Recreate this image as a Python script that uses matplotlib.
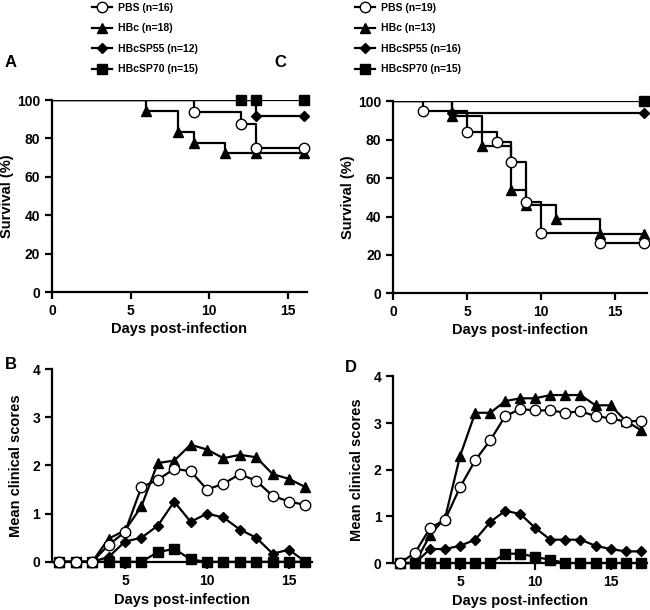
import matplotlib
matplotlib.use('Agg')
import matplotlib.pyplot as plt
from matplotlib.lines import Line2D

plt.rcParams['font.family'] = ['Liberation Sans', 'DejaVu Sans']
plt.rcParams['font.weight'] = 'bold'

# ---- data ----
groups = ["PBS", "HBc", "HBcSP55", "HBcSP70"]
n_left = [16, 18, 12, 15]
n_right = [19, 13, 16, 15]

# Panel A survival (Kaplan-Meier steps)
a_pbs_days = [0, 9, 12, 13, 16]
a_pbs_surv = [100, 93.75, 87.5, 75, 75]
a_hbc_days = [0, 6, 8, 9, 11, 13, 16]
a_hbc_surv = [100, 94.4, 83.3, 77.8, 72.2, 72.2, 72.2]
a_sp55_days = [0, 13, 16]
a_sp55_surv = [100, 91.7, 91.7]
a_sp70_days = [0, 12, 13, 16]
a_sp70_surv = [100, 100, 100, 100]

# Panel C survival
c_pbs_days = [0, 2, 5, 7, 8, 9, 10, 14, 17]
c_pbs_surv = [100, 94.7, 84.2, 78.9, 68.4, 47.4, 31.6, 26.3, 26.3]
c_hbc_days = [0, 4, 6, 8, 9, 11, 14, 17]
c_hbc_surv = [100, 92.3, 76.9, 53.8, 46.2, 38.5, 30.8, 30.8]
c_sp55_days = [0, 4, 17]
c_sp55_surv = [100, 93.75, 93.75]
c_sp70_days = [0, 17]
c_sp70_surv = [100, 100]

# Panel B clinical scores (days 1-16)
b_days = list(range(1, 17))
b_pbs = [0, 0, 0, 0.35, 0.62, 1.55, 1.7, 1.93, 1.88, 1.5, 1.62, 1.82, 1.68, 1.37, 1.25, 1.18]
b_hbc = [0, 0, 0, 0.48, 0.65, 1.15, 2.05, 2.1, 2.43, 2.33, 2.15, 2.22, 2.17, 1.82, 1.72, 1.55]
b_sp55 = [0, 0, 0, 0.1, 0.42, 0.5, 0.75, 1.25, 0.83, 1.0, 0.92, 0.67, 0.5, 0.17, 0.25, 0]
b_sp70 = [0, 0, 0, 0, 0, 0, 0.2, 0.27, 0.05, 0, 0, 0, 0, 0, 0, 0]

# Panel D clinical scores (days 1-17)
d_days = list(range(1, 18))
d_pbs = [0, 0.22, 0.75, 0.93, 1.63, 2.2, 2.63, 3.15, 3.3, 3.27, 3.27, 3.22, 3.25, 3.15, 3.1, 3.03, 3.05]
d_hbc = [0, 0, 0.6, 0.97, 2.3, 3.22, 3.22, 3.47, 3.53, 3.53, 3.6, 3.6, 3.6, 3.38, 3.38, 3.05, 2.85]
d_sp55 = [0, 0, 0.3, 0.3, 0.37, 0.5, 0.88, 1.12, 1.05, 0.75, 0.5, 0.5, 0.5, 0.37, 0.3, 0.25, 0.25]
d_sp70 = [0, 0, 0, 0, 0, 0, 0, 0.2, 0.2, 0.13, 0.07, 0, 0, 0, 0, 0, 0]

# ---- styles ----
styles = [
    dict(marker='o', mfc='white', mec='black', ms=7.5),
    dict(marker='^', mfc='black', mec='black', ms=7),
    dict(marker='D', mfc='black', mec='black', ms=5.5),
    dict(marker='s', mfc='black', mec='black', ms=6.5),
]
LW = 1.6


def style_axes(ax):
    for side in ['top', 'right']:
        ax.spines[side].set_visible(False)
    for side in ['left', 'bottom']:
        ax.spines[side].set_linewidth(1.6)
    ax.tick_params(direction='out', length=5, width=1.6, labelsize=10)
    for lbl in ax.get_xticklabels() + ax.get_yticklabels():
        lbl.set_fontweight('bold')


def survival_panel(ax, series, xmax):
    # draw the last group first so PBS circles sit on top
    for (days, surv), st in reversed(list(zip(series, styles))):
        ax.step(days, surv, where='post', color='black', lw=LW, zorder=2)
        ax.plot(days[1:], surv[1:], ls='none', zorder=3, clip_on=False, **st)
    ax.set_xlim(0, xmax)
    ax.set_ylim(0, 100)
    ax.set_xticks([0, 5, 10, 15])
    ax.set_yticks([0, 20, 40, 60, 80, 100])
    ax.set_xlabel("Days post-infection", fontsize=10.5, fontweight='bold', labelpad=3)
    ax.set_ylabel("Survival (%)", fontsize=10.5, fontweight='bold', labelpad=2)
    style_axes(ax)


def score_panel(ax, days, series, xmax):
    for vals, st in reversed(list(zip(series, styles))):
        ax.plot(days, vals, color='black', lw=LW, zorder=3, clip_on=False, **st)
    ax.set_xlim(0.55, xmax)
    ax.set_ylim(0, 4)
    ax.set_xticks([5, 10, 15])
    ax.set_yticks([0, 1, 2, 3, 4])
    ax.set_xlabel("Days post-infection", fontsize=10.5, fontweight='bold', labelpad=4)
    ax.set_ylabel("Mean clinical scores", fontsize=10.5, fontweight='bold', labelpad=7)
    style_axes(ax)


fig = plt.figure(figsize=(6.5, 6.1), dpi=100)

ax_a = fig.add_axes([0.080, 0.521, 0.392, 0.315])
ax_c = fig.add_axes([0.605, 0.519, 0.391, 0.315])
ax_b = fig.add_axes([0.080, 0.079, 0.400, 0.316])
ax_d = fig.add_axes([0.605, 0.077, 0.391, 0.306])

survival_panel(ax_a, [(a_pbs_days, a_pbs_surv), (a_hbc_days, a_hbc_surv),
                      (a_sp55_days, a_sp55_surv), (a_sp70_days, a_sp70_surv)], 16.2)
survival_panel(ax_c, [(c_pbs_days, c_pbs_surv), (c_hbc_days, c_hbc_surv),
                      (c_sp55_days, c_sp55_surv), (c_sp70_days, c_sp70_surv)], 17.2)
score_panel(ax_b, b_days, [b_pbs, b_hbc, b_sp55, b_sp70], 16.4)
score_panel(ax_d, d_days, [d_pbs, d_hbc, d_sp55, d_sp70], 17.45)

# legends
for x0, ns in [(0.142, n_left), (0.546, n_right)]:
    handles = [Line2D([], [], color='black', lw=LW, **st) for st in styles]
    labels = [f"{g} (n={n})" for g, n in zip(groups, ns)]
    fig.legend(handles, labels, loc='upper left', bbox_to_anchor=(x0, 0.995),
               frameon=False, handlelength=1.9, handletextpad=0.6,
               labelspacing=1.0, borderaxespad=0, borderpad=0,
               prop={'weight': 'bold', 'size': 7.5})

# panel letters
for letter, x, y in [("A", 0.007, 0.898), ("C", 0.422, 0.898),
                     ("B", 0.007, 0.402), ("D", 0.530, 0.397)]:
    fig.text(x, y, letter, fontsize=12, fontweight='bold', ha='left', va='center')

fig.savefig("out.png", dpi=100)
